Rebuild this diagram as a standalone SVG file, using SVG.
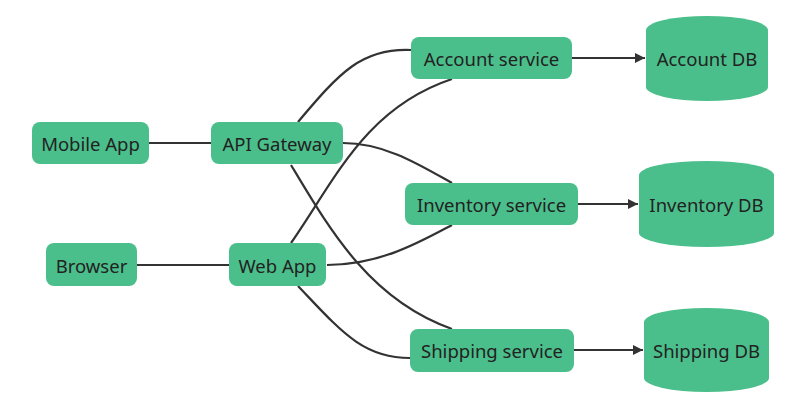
<svg xmlns="http://www.w3.org/2000/svg" width="794" height="406" viewBox="0 0 794 406">
<style>
.n{fill:#4bbf8b;}
.t{font-family:"Noto Sans","Open Sans",sans-serif;font-size:18.5px;fill:#222;text-anchor:middle;dominant-baseline:central;}
.e{fill:none;stroke:#333;stroke-width:2.2;}
</style>
<defs>
<marker id="arr" viewBox="0 0 10 10" refX="10" refY="5" markerWidth="10" markerHeight="10" markerUnits="userSpaceOnUse" orient="auto">
<path d="M0,0 L10,5 L0,10 z" fill="#333"/>
</marker>
</defs>
<rect width="794" height="406" fill="#fff"/>
<g id="edges">
<path class="e" d="M149,143 L211,143"/>
<path class="e" d="M137,265 L229,265"/>
<path class="e" d="M298,122 C340,72 362,48 411,50"/>
<path class="e" d="M343,143 C385,143 420,165 452,183"/>
<path class="e" d="M291,165 C330,230 370,300 452,329"/>
<path class="e" d="M291,243 C335,180 365,108 452,79"/>
<path class="e" d="M327,265 C380,265 420,242 452,225"/>
<path class="e" d="M298,286 C340,330 362,358 410,358"/>
<path class="e" d="M572,58 L645,58" marker-end="url(#arr)"/>
<path class="e" d="M578,204 L638,204" marker-end="url(#arr)"/>
<path class="e" d="M574,350 L643,350" marker-end="url(#arr)"/>
</g>
<g id="mobile"><rect class="n" x="32" y="122" width="117" height="42" rx="8"/><text class="t" x="90.5" y="143">Mobile App</text></g>
<g id="gateway"><rect class="n" x="211" y="122" width="132" height="42" rx="8"/><text class="t" x="277" y="143">API Gateway</text></g>
<g id="browser"><rect class="n" x="46" y="243" width="91" height="43" rx="8"/><text class="t" x="91.5" y="265">Browser</text></g>
<g id="webapp"><rect class="n" x="229" y="243" width="97" height="43" rx="8"/><text class="t" x="277.5" y="265">Web App</text></g>
<g id="account"><rect class="n" x="411" y="37" width="161" height="42" rx="8"/><text class="t" x="491.5" y="58">Account service</text></g>
<g id="inventory"><rect class="n" x="405" y="183" width="173" height="42" rx="8"/><text class="t" x="491.5" y="204">Inventory service</text></g>
<g id="shipping"><rect class="n" x="410" y="329" width="164" height="43" rx="8"/><text class="t" x="492" y="350">Shipping service</text></g>
<g id="accountdb"><path class="n" d="M646,30 A61,14 0 0 1 768,30 L768,87 A61,14 0 0 1 646,87 Z"/><text class="t" x="707" y="58">Account DB</text></g>
<g id="inventorydb"><path class="n" d="M639,175 A67.5,14 0 0 1 774,175 L774,233 A67.5,14 0 0 1 639,233 Z"/><text class="t" x="706.5" y="204">Inventory DB</text></g>
<g id="shippingdb"><path class="n" d="M644,322 A62.5,14 0 0 1 769,322 L769,378 A62.5,14 0 0 1 644,378 Z"/><text class="t" x="706.5" y="350">Shipping DB</text></g>
</svg>
